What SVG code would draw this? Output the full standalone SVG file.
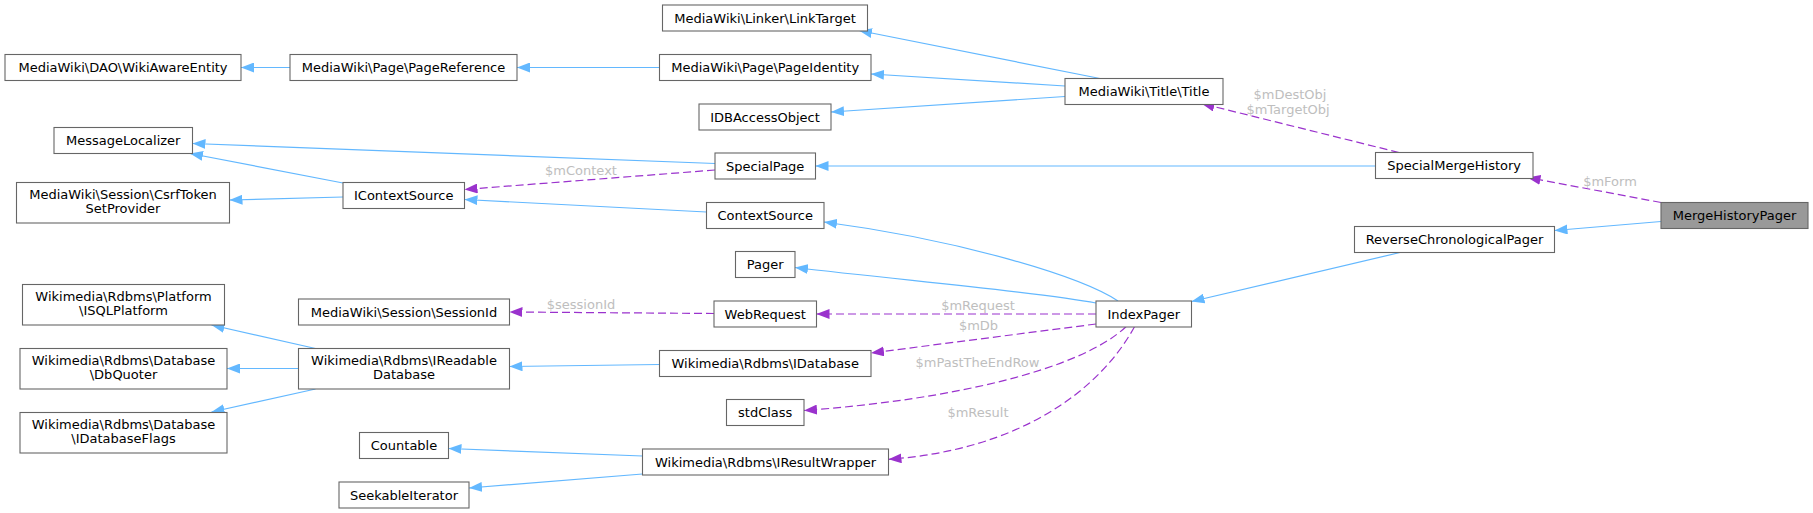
<svg xmlns="http://www.w3.org/2000/svg" width="1813" height="513" viewBox="0 0 1813 513">
<style>
.n rect{fill:#fff;stroke:#666;stroke-width:1.1}
.n.main rect{fill:#999}
.n text{font-family:"DejaVu Sans",sans-serif;font-size:13px;fill:#000;text-anchor:middle}
.e{fill:none;stroke:#63b8ff;stroke-width:1.2;marker-end:url(#ab)}
.d{fill:none;stroke:#9a32cd;stroke-width:1.2;stroke-dasharray:8,4;marker-end:url(#ap)}
.l{font-family:"DejaVu Sans",sans-serif;font-size:13px;fill:#bebebe;text-anchor:middle}
</style>
<defs>
<marker id="ab" markerUnits="userSpaceOnUse" markerWidth="13" markerHeight="10" refX="13" refY="5" orient="auto"><path d="M0,0 L13,5 L0,10 z" fill="#63b8ff"/></marker>
<marker id="ap" markerUnits="userSpaceOnUse" markerWidth="13" markerHeight="10" refX="13" refY="5" orient="auto"><path d="M0,0 L13,5 L0,10 z" fill="#9a32cd"/></marker>
</defs>
<rect width="1813" height="513" fill="#fff"/>
<g id="connectors">
<path class="e" d="M290,67.5 L241,67.5"/>
<path class="e" d="M659.5,67.5 L517,67.5"/>
<path class="e" d="M1100,78.5 L859,30.5"/>
<path class="e" d="M1065,86 L871,74"/>
<path class="e" d="M1065,96.5 L831,112"/>
<path class="d" d="M1399,152.5 L1201.5,103.5"/>
<text class="l" x="1290" y="98.5">$mDestObj</text>
<text class="l" x="1288" y="113.5">$mTargetObj</text>
<path class="e" d="M715,163.5 L192.5,143.5"/>
<path class="e" d="M1375.5,166 L815.5,166"/>
<path class="d" d="M715,170 L464.5,189.5"/>
<text class="l" x="581" y="175">$mContext</text>
<path class="e" d="M343,183 L190,153.5"/>
<path class="e" d="M343,197 L229.5,200"/>
<path class="e" d="M706.5,212 L464.5,199.5"/>
<path class="d" d="M1661,202.5 L1527.5,177.5"/>
<text class="l" x="1610" y="186">$mForm</text>
<path class="e" d="M1661,221.5 L1554.5,230.5"/>
<path class="e" d="M1400,252.5 L1191.5,301.5"/>
<path class="e" d="M1118,301 C1080,276 960,240 824,222"/>
<path class="e" d="M1096,303 C1040,292 900,280 795,267.5"/>
<path class="d" d="M1096,314 L816.5,314"/>
<text class="l" x="978" y="310">$mRequest</text>
<path class="d" d="M714,313.5 L509.5,312"/>
<text class="l" x="581" y="308.5">$sessionId</text>
<path class="d" d="M1096,324 L871,353"/>
<text class="l" x="978.5" y="330">$mDb</text>
<path class="e" d="M659.5,364.5 L509.5,366.5"/>
<path class="d" d="M1126,326.7 C1080,370 950,400 804,410.5"/>
<text class="l" x="977.5" y="367">$mPastTheEndRow</text>
<path class="d" d="M1134.5,326.7 C1100,390 1020,450 888.5,459.3"/>
<text class="l" x="978" y="417">$mResult</text>
<path class="e" d="M315.5,348.5 L211.5,325"/>
<path class="e" d="M298.5,368.5 L227,368.5"/>
<path class="e" d="M315.5,389 L211.5,412"/>
<path class="e" d="M642.5,456 L448.5,448.5"/>
<path class="e" d="M642.5,474 L469,488"/>
</g>
<g id="WikiAwareEntity" class="n"><rect x="5" y="54.5" width="236" height="26"/><text x="123" y="72">MediaWiki\DAO\WikiAwareEntity</text></g>
<g id="PageReference" class="n"><rect x="290" y="54.5" width="227" height="26"/><text x="403.5" y="72">MediaWiki\Page\PageReference</text></g>
<g id="LinkTarget" class="n"><rect x="662.5" y="5" width="205" height="26"/><text x="765" y="22.5">MediaWiki\Linker\LinkTarget</text></g>
<g id="PageIdentity" class="n"><rect x="659.5" y="54.5" width="211.5" height="26"/><text x="765.2" y="72">MediaWiki\Page\PageIdentity</text></g>
<g id="IDBAccessObject" class="n"><rect x="699" y="104" width="132" height="26"/><text x="765" y="121.5">IDBAccessObject</text></g>
<g id="Title" class="n"><rect x="1065" y="78.5" width="158" height="26"/><text x="1144" y="96">MediaWiki\Title\Title</text></g>
<g id="MessageLocalizer" class="n"><rect x="54" y="127.5" width="138.5" height="26"/><text x="123.2" y="145">MessageLocalizer</text></g>
<g id="SpecialPage" class="n"><rect x="715" y="153" width="100.5" height="26"/><text x="765.2" y="170.5">SpecialPage</text></g>
<g id="SpecialMergeHistory" class="n"><rect x="1375.5" y="152.5" width="157.5" height="26"/><text x="1454.2" y="170">SpecialMergeHistory</text></g>
<g id="CsrfTokenSetProvider" class="n"><rect x="16.5" y="182.5" width="213" height="40.5"/><text x="123" y="198.5">MediaWiki\Session\CsrfToken</text><text x="123" y="212.5">SetProvider</text></g>
<g id="IContextSource" class="n"><rect x="343" y="182.5" width="121.5" height="26"/><text x="403.7" y="200">IContextSource</text></g>
<g id="ContextSource" class="n"><rect x="706.5" y="202.5" width="117.5" height="26"/><text x="765.2" y="220">ContextSource</text></g>
<g id="MergeHistoryPager" class="n main"><rect x="1661" y="202.5" width="147" height="26"/><text x="1734.5" y="220">MergeHistoryPager</text></g>
<g id="ReverseChronologicalPager" class="n"><rect x="1354.5" y="226.5" width="200" height="26"/><text x="1454.5" y="244">ReverseChronologicalPager</text></g>
<g id="Pager" class="n"><rect x="735.5" y="251.5" width="59.5" height="26"/><text x="765.2" y="269">Pager</text></g>
<g id="SessionId" class="n"><rect x="298.5" y="299" width="211" height="26"/><text x="404" y="316.5">MediaWiki\Session\SessionId</text></g>
<g id="WebRequest" class="n"><rect x="714" y="301" width="102.5" height="26"/><text x="765.2" y="318.5">WebRequest</text></g>
<g id="IndexPager" class="n"><rect x="1096" y="301" width="95.5" height="26"/><text x="1143.7" y="318.5">IndexPager</text></g>
<g id="ISQLPlatform" class="n"><rect x="22.5" y="284.5" width="202" height="40.5"/><text x="123.5" y="300.5">Wikimedia\Rdbms\Platform</text><text x="123.5" y="314.5">\ISQLPlatform</text></g>
<g id="DbQuoter" class="n"><rect x="20" y="348.5" width="207" height="40.5"/><text x="123.5" y="364.5">Wikimedia\Rdbms\Database</text><text x="123.5" y="378.5">\DbQuoter</text></g>
<g id="IReadableDatabase" class="n"><rect x="298.5" y="348.5" width="211" height="40.5"/><text x="404" y="364.5">Wikimedia\Rdbms\IReadable</text><text x="404" y="378.5">Database</text></g>
<g id="IDatabase" class="n"><rect x="659.5" y="350.5" width="211.5" height="26"/><text x="765.2" y="368">Wikimedia\Rdbms\IDatabase</text></g>
<g id="stdClass" class="n"><rect x="726.5" y="399.5" width="77.5" height="26"/><text x="765.2" y="417">stdClass</text></g>
<g id="IDatabaseFlags" class="n"><rect x="20" y="412.5" width="207" height="40.5"/><text x="123.5" y="428.5">Wikimedia\Rdbms\Database</text><text x="123.5" y="442.5">\IDatabaseFlags</text></g>
<g id="Countable" class="n"><rect x="359.5" y="432.5" width="89" height="26"/><text x="404" y="450">Countable</text></g>
<g id="IResultWrapper" class="n"><rect x="642.5" y="449" width="246" height="26"/><text x="765.5" y="466.5">Wikimedia\Rdbms\IResultWrapper</text></g>
<g id="SeekableIterator" class="n"><rect x="339" y="482" width="130" height="26"/><text x="404" y="499.5">SeekableIterator</text></g>
</svg>
